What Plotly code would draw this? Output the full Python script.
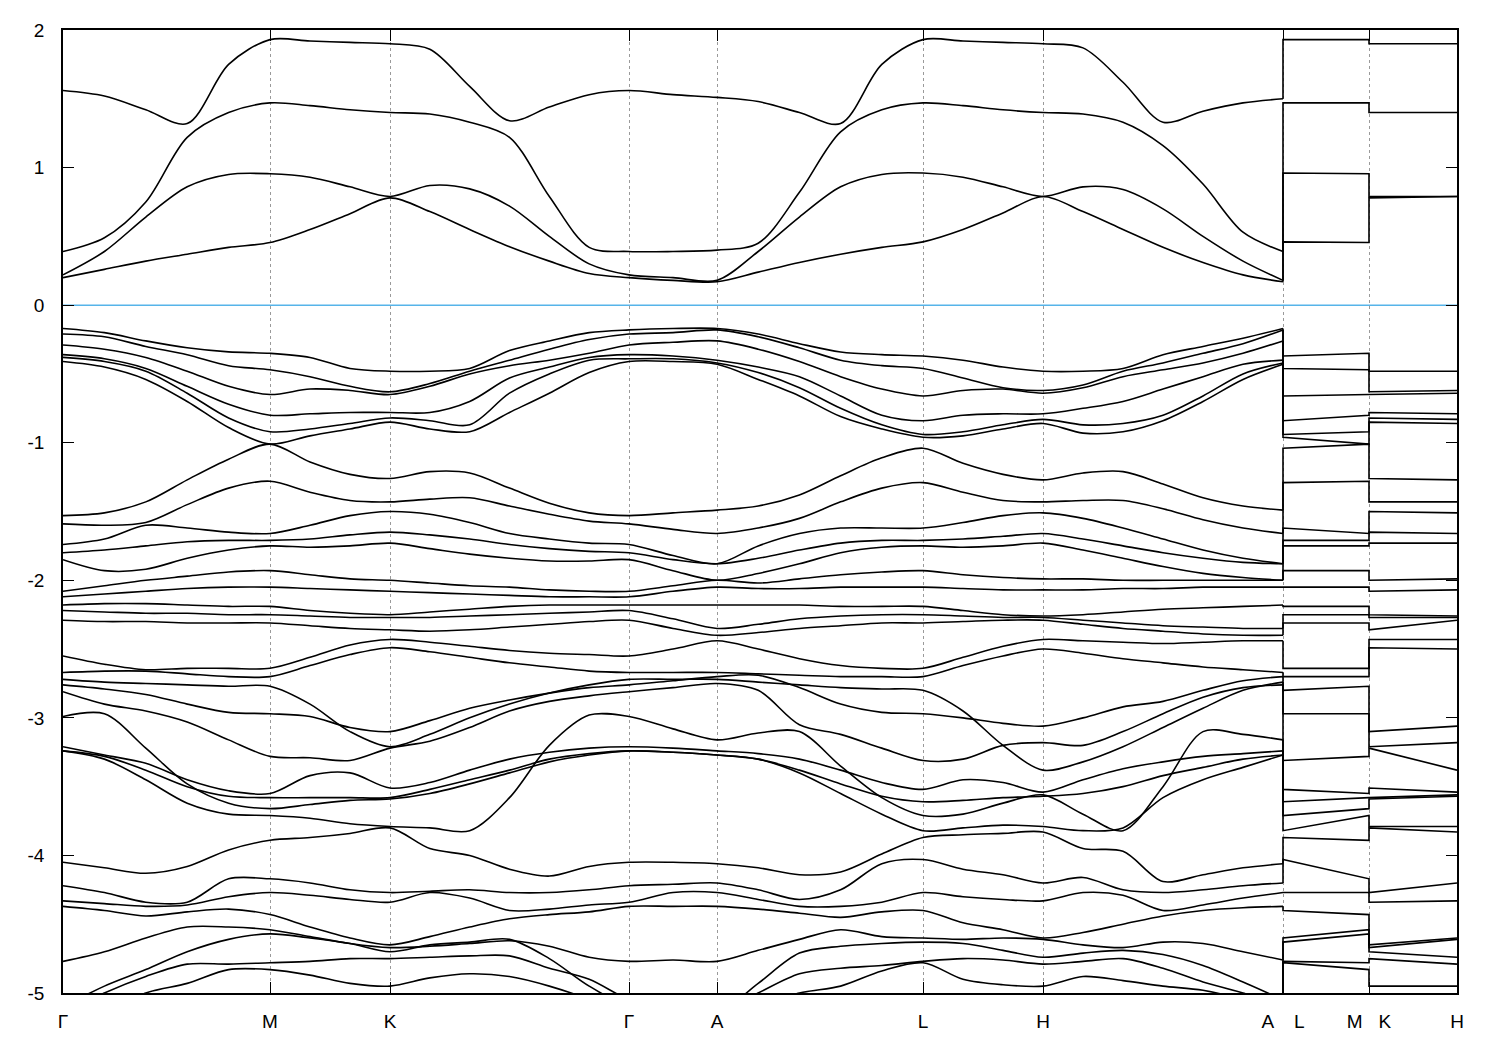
import numpy as np
import plotly.graph_objects as go

# ---- k-path (high-symmetry positions, arbitrary path units) ----
HS_POS = [0.0, 2.07, 3.27, 5.66, 6.54, 8.60, 9.80, 12.20]   # G M K G A L H A
SEG_DIV = [5, 3, 6, 2, 5, 3, 6]
X_MK = 13.06
X_END = 13.94
TICK_POS = [0.0, 2.07, 3.27, 5.66, 6.54, 8.60, 9.80, 12.20, 13.06, 13.94]
TICK_LAB = ["Γ", "M", "K", "Γ", "A", "L", "H",
            "A\u00a0\u00a0\u00a0\u2009L", "M\u00a0\u00a0\u00a0K", "H"]
Y_TICKS = [2, 1, 0, -1, -2, -3, -4, -5]
Y_LABELS = ["2", "1", "0", "-1", "-2", "-3", "-4", "-5"]

# ---- band energies (eV) at the sampled k columns ----
cb1 = [1.56, 1.52, 1.42, 1.32, 1.75, 1.93, 1.92, 1.91, 1.90, 1.86, 1.59, 1.34, 1.44, 1.53, 1.56, 1.53, 1.51, 1.48, 1.40, 1.32, 1.75, 1.93, 1.92, 1.91, 1.90, 1.87, 1.62, 1.33, 1.41, 1.47, 1.50]
cb2 = [0.39, 0.49, 0.75, 1.22, 1.40, 1.47, 1.45, 1.42, 1.40, 1.39, 1.33, 1.22, 0.79, 0.42, 0.39, 0.39, 0.40, 0.45, 0.82, 1.26, 1.42, 1.47, 1.45, 1.42, 1.40, 1.39, 1.33, 1.16, 0.88, 0.53, 0.39]
cb3 = [0.22, 0.39, 0.64, 0.86, 0.95, 0.955, 0.93, 0.86, 0.79, 0.87, 0.845, 0.72, 0.50, 0.30, 0.22, 0.20, 0.18, 0.39, 0.64, 0.86, 0.95, 0.96, 0.93, 0.86, 0.79, 0.86, 0.84, 0.70, 0.50, 0.32, 0.18]
cb4 = [0.20, 0.26, 0.32, 0.37, 0.42, 0.455, 0.55, 0.665, 0.78, 0.68, 0.55, 0.425, 0.32, 0.23, 0.20, 0.18, 0.17, 0.24, 0.31, 0.37, 0.42, 0.46, 0.55, 0.67, 0.79, 0.68, 0.55, 0.42, 0.31, 0.22, 0.17]

va1 = [-0.17, -0.20, -0.26, -0.31, -0.34, -0.35, -0.38, -0.46, -0.48, -0.48, -0.46, -0.33, -0.26, -0.20, -0.18, -0.17, -0.17, -0.21, -0.28, -0.34, -0.36, -0.37, -0.40, -0.45, -0.48, -0.48, -0.46, -0.36, -0.30, -0.24, -0.17]
va2 = [-0.21, -0.23, -0.30, -0.36, -0.44, -0.47, -0.52, -0.59, -0.63, -0.57, -0.48, -0.40, -0.32, -0.25, -0.21, -0.20, -0.18, -0.23, -0.31, -0.40, -0.44, -0.46, -0.53, -0.60, -0.62, -0.58, -0.48, -0.42, -0.35, -0.28, -0.18]
va3 = [-0.29, -0.32, -0.38, -0.48, -0.59, -0.65, -0.61, -0.62, -0.65, -0.59, -0.50, -0.44, -0.40, -0.35, -0.29, -0.27, -0.26, -0.32, -0.41, -0.52, -0.61, -0.66, -0.62, -0.61, -0.64, -0.60, -0.52, -0.47, -0.42, -0.35, -0.26]
va4 = [-0.36, -0.39, -0.46, -0.59, -0.72, -0.80, -0.79, -0.78, -0.78, -0.78, -0.70, -0.53, -0.45, -0.38, -0.36, -0.37, -0.40, -0.45, -0.52, -0.66, -0.80, -0.84, -0.80, -0.79, -0.79, -0.75, -0.70, -0.61, -0.52, -0.43, -0.40]
va5 = [-0.38, -0.41, -0.48, -0.64, -0.82, -0.92, -0.90, -0.86, -0.82, -0.84, -0.87, -0.64, -0.50, -0.40, -0.39, -0.39, -0.42, -0.49, -0.60, -0.75, -0.87, -0.94, -0.92, -0.87, -0.83, -0.87, -0.86, -0.80, -0.66, -0.50, -0.42]
va6 = [-0.41, -0.45, -0.54, -0.70, -0.89, -1.01, -0.95, -0.90, -0.85, -0.90, -0.92, -0.78, -0.64, -0.49, -0.41, -0.41, -0.43, -0.54, -0.66, -0.81, -0.90, -0.96, -0.95, -0.90, -0.86, -0.93, -0.92, -0.84, -0.70, -0.54, -0.43]

vb1 = [-1.53, -1.51, -1.43, -1.27, -1.12, -1.01, -1.14, -1.23, -1.26, -1.21, -1.22, -1.33, -1.44, -1.51, -1.53, -1.51, -1.49, -1.46, -1.38, -1.24, -1.11, -1.04, -1.15, -1.23, -1.27, -1.22, -1.21, -1.30, -1.40, -1.46, -1.49]
vb2 = [-1.59, -1.60, -1.58, -1.45, -1.33, -1.28, -1.36, -1.42, -1.43, -1.41, -1.40, -1.46, -1.52, -1.57, -1.59, -1.63, -1.66, -1.62, -1.55, -1.43, -1.33, -1.29, -1.36, -1.42, -1.43, -1.42, -1.42, -1.48, -1.56, -1.62, -1.66]
vb3 = [-1.74, -1.70, -1.60, -1.62, -1.65, -1.66, -1.60, -1.53, -1.50, -1.52, -1.58, -1.66, -1.70, -1.73, -1.74, -1.82, -1.88, -1.75, -1.66, -1.62, -1.62, -1.62, -1.58, -1.53, -1.51, -1.55, -1.62, -1.70, -1.78, -1.84, -1.88]
vb4 = [-1.80, -1.78, -1.75, -1.72, -1.71, -1.71, -1.70, -1.67, -1.65, -1.67, -1.70, -1.74, -1.77, -1.79, -1.80, -1.85, -1.88, -1.84, -1.78, -1.73, -1.71, -1.71, -1.70, -1.68, -1.66, -1.70, -1.75, -1.80, -1.84, -1.87, -1.88]
vb5 = [-1.85, -1.93, -1.92, -1.84, -1.78, -1.75, -1.76, -1.75, -1.73, -1.77, -1.81, -1.84, -1.86, -1.86, -1.85, -1.93, -2.00, -1.95, -1.88, -1.80, -1.76, -1.75, -1.76, -1.75, -1.73, -1.78, -1.84, -1.90, -1.95, -1.98, -2.00]

vc1 = [-2.08, -2.04, -2.00, -1.97, -1.94, -1.93, -1.96, -1.99, -2.00, -2.02, -2.04, -2.05, -2.07, -2.08, -2.08, -2.04, -2.00, -2.02, -1.99, -1.96, -1.94, -1.93, -1.96, -1.98, -1.99, -1.99, -2.00, -2.00, -2.00, -2.00, -2.00]
vc2 = [-2.12, -2.10, -2.08, -2.06, -2.05, -2.05, -2.06, -2.07, -2.08, -2.09, -2.10, -2.11, -2.12, -2.12, -2.12, -2.08, -2.05, -2.06, -2.06, -2.05, -2.05, -2.05, -2.06, -2.07, -2.07, -2.07, -2.06, -2.06, -2.05, -2.05, -2.05]
vc3 = [-2.18, -2.17, -2.17, -2.18, -2.19, -2.19, -2.22, -2.24, -2.25, -2.23, -2.21, -2.19, -2.18, -2.18, -2.18, -2.18, -2.18, -2.18, -2.18, -2.19, -2.19, -2.19, -2.22, -2.25, -2.26, -2.25, -2.23, -2.21, -2.20, -2.19, -2.18]
vc4 = [-2.22, -2.23, -2.24, -2.24, -2.25, -2.25, -2.26, -2.27, -2.27, -2.27, -2.26, -2.25, -2.24, -2.23, -2.22, -2.28, -2.35, -2.32, -2.28, -2.26, -2.25, -2.25, -2.26, -2.27, -2.27, -2.29, -2.31, -2.33, -2.34, -2.35, -2.35]
vc5 = [-2.29, -2.30, -2.30, -2.31, -2.31, -2.31, -2.33, -2.35, -2.36, -2.37, -2.36, -2.34, -2.32, -2.30, -2.29, -2.35, -2.40, -2.38, -2.35, -2.33, -2.31, -2.31, -2.30, -2.29, -2.29, -2.32, -2.35, -2.37, -2.39, -2.40, -2.40]
vc6 = [-2.55, -2.61, -2.65, -2.64, -2.64, -2.64, -2.56, -2.47, -2.43, -2.45, -2.48, -2.51, -2.53, -2.54, -2.55, -2.50, -2.44, -2.50, -2.57, -2.62, -2.64, -2.64, -2.56, -2.48, -2.43, -2.44, -2.45, -2.46, -2.45, -2.44, -2.44]

vd1 = [-2.67, -2.66, -2.66, -2.68, -2.70, -2.70, -2.62, -2.54, -2.49, -2.52, -2.56, -2.60, -2.63, -2.66, -2.67, -2.67, -2.67, -2.68, -2.69, -2.70, -2.70, -2.70, -2.62, -2.55, -2.50, -2.53, -2.57, -2.60, -2.63, -2.65, -2.67]
vd2 = [-2.76, -2.79, -2.83, -2.90, -2.96, -2.97, -2.99, -3.07, -3.10, -3.02, -2.93, -2.87, -2.82, -2.78, -2.76, -2.73, -2.70, -2.69, -2.78, -2.90, -2.96, -2.97, -3.00, -3.04, -3.06, -3.00, -2.92, -2.88, -2.80, -2.73, -2.70]
vd3 = [-2.81, -2.90, -2.95, -3.03, -3.16, -3.28, -3.29, -3.31, -3.22, -3.17, -3.07, -2.95, -2.88, -2.84, -2.81, -2.78, -2.75, -2.80, -3.05, -3.12, -3.22, -3.31, -3.30, -3.20, -3.18, -3.20, -3.10, -2.97, -2.85, -2.78, -2.76]
vd4 = [-2.99, -2.97, -3.22, -3.48, -3.62, -3.66, -3.63, -3.60, -3.59, -3.55, -3.48, -3.40, -3.32, -3.27, -3.24, -3.25, -3.27, -3.30, -3.40, -3.55, -3.70, -3.82, -3.80, -3.78, -3.79, -3.82, -3.80, -3.58, -3.45, -3.36, -3.27]
vd5 = [-3.21, -3.27, -3.33, -3.45, -3.53, -3.55, -3.42, -3.40, -3.51, -3.47, -3.38, -3.30, -3.25, -3.22, -3.21, -3.22, -3.24, -3.26, -3.30, -3.38, -3.47, -3.52, -3.45, -3.47, -3.54, -3.45, -3.37, -3.32, -3.28, -3.26, -3.24]
vd6 = [-3.24, -3.30, -3.45, -3.62, -3.70, -3.71, -3.73, -3.77, -3.79, -3.80, -3.82, -3.58, -3.20, -2.98, -2.99, -3.08, -3.16, -3.11, -3.10, -3.35, -3.58, -3.71, -3.70, -3.62, -3.56, -3.70, -3.82, -3.50, -3.10, -3.12, -3.16]
vd7 = [-2.72, -2.74, -2.75, -2.76, -2.77, -2.77, -2.90, -3.10, -3.21, -3.12, -3.00, -2.90, -2.82, -2.76, -2.72, -2.72, -2.72, -2.74, -2.76, -2.78, -2.79, -2.80, -2.95, -3.20, -3.38, -3.32, -3.21, -3.07, -2.93, -2.80, -2.74]
vd8 = [-3.24, -3.28, -3.38, -3.50, -3.57, -3.58, -3.58, -3.58, -3.58, -3.52, -3.45, -3.38, -3.30, -3.26, -3.24, -3.25, -3.27, -3.30, -3.38, -3.48, -3.57, -3.61, -3.60, -3.58, -3.57, -3.55, -3.50, -3.42, -3.36, -3.30, -3.27]

ve1 = [-4.05, -4.09, -4.13, -4.08, -3.96, -3.89, -3.87, -3.84, -3.80, -3.95, -4.00, -4.10, -4.15, -4.08, -4.05, -4.05, -4.06, -4.09, -4.14, -4.12, -3.99, -3.87, -3.85, -3.84, -3.83, -3.95, -3.97, -4.19, -4.14, -4.09, -4.06]
ve2 = [-4.22, -4.27, -4.34, -4.34, -4.17, -4.17, -4.20, -4.25, -4.27, -4.26, -4.25, -4.27, -4.27, -4.25, -4.22, -4.21, -4.20, -4.25, -4.32, -4.25, -4.06, -4.03, -4.10, -4.14, -4.20, -4.16, -4.25, -4.27, -4.25, -4.22, -4.20]
ve3 = [-4.33, -4.35, -4.37, -4.36, -4.30, -4.27, -4.29, -4.32, -4.34, -4.27, -4.31, -4.40, -4.39, -4.36, -4.34, -4.27, -4.27, -4.32, -4.37, -4.37, -4.34, -4.27, -4.30, -4.32, -4.33, -4.27, -4.29, -4.40, -4.36, -4.31, -4.27]
ve4 = [-4.37, -4.40, -4.44, -4.41, -4.39, -4.43, -4.52, -4.60, -4.65, -4.59, -4.52, -4.46, -4.43, -4.41, -4.37, -4.37, -4.37, -4.39, -4.42, -4.45, -4.41, -4.40, -4.49, -4.54, -4.60, -4.56, -4.50, -4.44, -4.40, -4.38, -4.37]
ve5 = [-4.77, -4.70, -4.60, -4.52, -4.52, -4.54, -4.59, -4.64, -4.67, -4.66, -4.64, -4.62, -4.66, -4.74, -4.77, -4.76, -4.77, -4.69, -4.61, -4.54, -4.59, -4.60, -4.61, -4.60, -4.61, -4.65, -4.67, -4.63, -4.64, -4.70, -4.76]
ve6 = [-5.10, -4.95, -4.83, -4.70, -4.61, -4.57, -4.60, -4.64, -4.70, -4.65, -4.63, -4.61, -4.75, -4.95, -5.10, -5.15, -5.15, -4.93, -4.71, -4.66, -4.64, -4.63, -4.64, -4.69, -4.74, -4.71, -4.69, -4.72, -4.80, -4.92, -5.05]
ve7 = [-5.15, -5.00, -4.88, -4.79, -4.79, -4.78, -4.77, -4.75, -4.75, -4.74, -4.73, -4.73, -4.82, -4.90, -5.05, -5.15, -5.15, -5.00, -4.86, -4.82, -4.80, -4.77, -4.75, -4.76, -4.79, -4.77, -4.75, -4.82, -4.92, -5.00, -5.10]
ve8 = [-5.20, -5.15, -5.00, -4.93, -4.83, -4.83, -4.87, -4.93, -4.95, -4.89, -4.86, -4.88, -4.95, -5.05, -5.20, -5.20, -5.20, -5.10, -5.00, -4.95, -4.84, -4.78, -4.90, -4.94, -4.95, -4.88, -4.91, -4.95, -4.98, -5.05, -5.15]

BANDS = [cb1, cb2, cb3, cb4,
         va1, va2, va3, va4, va5, va6,
         vb1, vb2, vb3, vb4, vb5,
         vc1, vc2, vc3, vc4, vc5, vc6,
         vd1, vd2, vd3, vd4, vd5, vd6, vd7, vd8,
         ve1, ve2, ve3, ve4, ve5, ve6, ve7, ve8]

# sampled k columns along G-M-K-G-A-L-H-A
k_cols = [HS_POS[0]]
for i, n in enumerate(SEG_DIV):
    k_cols.extend(np.linspace(HS_POS[i], HS_POS[i + 1], n + 1)[1:].tolist())
N = len(k_cols)
for b in BANDS:
    assert len(b) == N, (len(b), N)

IDX_M, IDX_K, IDX_L, IDX_H, IDX_A = 5, 8, 21, 24, N - 1

LINE_W = 1.6
fig = go.Figure()

# Fermi level line
fig.add_trace(go.Scatter(x=[0, X_END], y=[0, 0], mode="lines",
                         line=dict(color="#56b4e9", width=1.5),
                         hoverinfo="skip"))

# main path
for b in BANDS:
    fig.add_trace(go.Scatter(x=k_cols, y=b, mode="lines",
                             line=dict(color="black", width=LINE_W,
                                       shape="spline", smoothing=0.9),
                             hoverinfo="skip"))

# L-M and K-H segments (band-ordered, with jumps at A|L and M|K)
sA = sorted(b[IDX_A] for b in BANDS)
sL = sorted(b[IDX_L] for b in BANDS)
sM = sorted(b[IDX_M] for b in BANDS)
sK = sorted(b[IDX_K] for b in BANDS)
sH = sorted(b[IDX_H] for b in BANDS)
xA = HS_POS[-1]
for a, l, m, k, h in zip(sA, sL, sM, sK, sH):
    fig.add_trace(go.Scatter(x=[xA, xA, X_MK, X_MK, X_END],
                             y=[a, l, m, k, h], mode="lines",
                             line=dict(color="black", width=LINE_W),
                             hoverinfo="skip"))

axis_common = dict(showline=True, linecolor="black", linewidth=1.6,
                   mirror="ticks", ticks="inside", ticklen=11,
                   tickwidth=1.4, tickcolor="black", zeroline=False,
                   tickfont=dict(size=19, color="black"))

fig.update_xaxes(range=[0, X_END], tickmode="array", tickvals=TICK_POS,
                 ticktext=TICK_LAB, showgrid=True, gridcolor="#9a9a9a",
                 gridwidth=1, griddash="3px,3px", ticklabelstandoff=10,
                 **axis_common)
fig.update_yaxes(range=[-5, 2], tickmode="array", tickvals=Y_TICKS,
                 ticktext=Y_LABELS, showgrid=False, ticklabelstandoff=13,
                 **axis_common)

# the page adds an 8 px body margin, so margins are offset to place the
# plot frame at x 63..1457, y 28..993 in the window
fig.update_layout(width=1500, height=1050,
                  margin=dict(l=55, r=51, t=20, b=65),
                  plot_bgcolor="white", paper_bgcolor="white",
                  showlegend=False,
                  font=dict(family="Liberation Sans, Arial, sans-serif",
                            size=19, color="black"))

fig.write_html("out.html")
